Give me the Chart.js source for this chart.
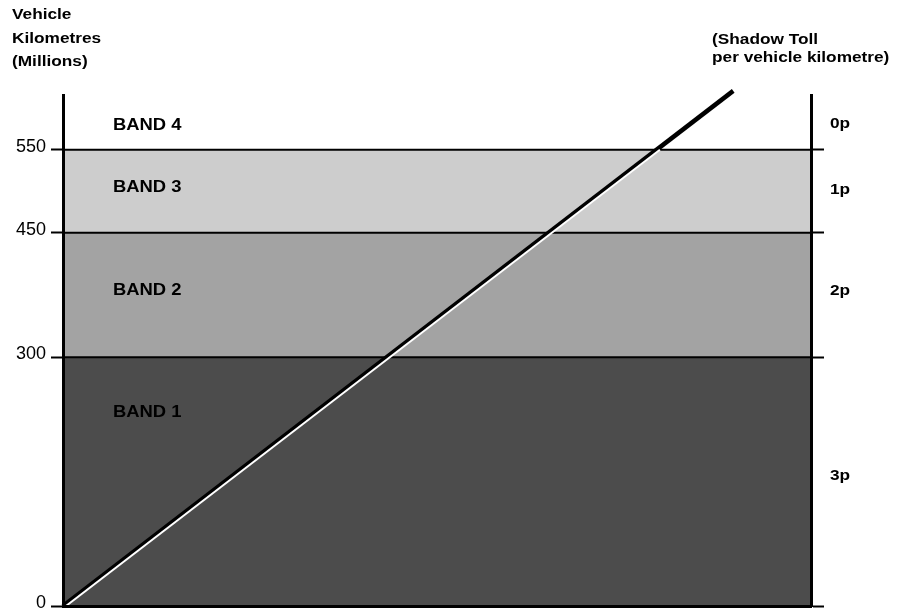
<!DOCTYPE html>
<html>
<head>
<meta charset="utf-8">
<script src="https://cdn.jsdelivr.net/npm/chart.js@4/dist/chart.umd.min.js"></script>
<style>
  html, body { margin: 0; padding: 0; background: #fff; }
  #wrap { width: 901px; height: 611px; }
</style>
</head>
<body>
<div id="wrap"><canvas id="tollBands"></canvas></div>
<script>
// vehicle kilometres (millions) where each band starts
const bandNames = ['BAND 1', 'BAND 2', 'BAND 3', 'BAND 4'];
const tollLabels = ['3p', '2p', '1p', '0p'];
const bandEdges = [0, 300, 450, 550];
const axisTop = 616;
const leftTicks = [0, 300, 450, 550];

// the traffic line, x is just a 0-100 run across the chart
const lineX = [0, 89.6];
const lineY = [0, 621];
const whiteX = [0.4, 79.8];
const whiteY = [0, 550];

const bandColors = ['#4c4c4c', '#a3a3a3', '#cdcdcd'];
const leftTitle = ['Vehicle', 'Kilometres', '(Millions)'];
const rightTitle = ['(Shadow Toll', 'per vehicle kilometre)'];

const font = '"Liberation Sans", Arial, sans-serif';
const stretch = 1.15; // the scanned original is a bit wider than tall

function wideText(ctx, text, x, y) {
  ctx.save();
  ctx.translate(x, y);
  ctx.scale(stretch, 1);
  ctx.fillText(text, 0, 0);
  ctx.restore();
}

const bandText = {
  id: 'bandText',
  afterDraw(chart, args, opts) {
    const ctx = chart.ctx;
    const y = chart.scales.y;
    ctx.save();
    ctx.fillStyle = '#000';
    ctx.textAlign = 'left';
    ctx.textBaseline = 'middle';
    ctx.font = 'bold 15px ' + font;
    leftTitle.forEach((t, i) => wideText(ctx, t, 12, 15 + i * 23.5));
    rightTitle.forEach((t, i) => wideText(ctx, t, 712, 40 + i * 18));
    bandNames.forEach((name, i) => {
      const lo = bandEdges[i];
      const hi = i < bandEdges.length - 1 ? bandEdges[i + 1] : axisTop;
      const mid = y.getPixelForValue((lo + hi) / 2);
      ctx.font = 'bold 16px ' + font;
      wideText(ctx, name, 113, mid + opts.nameShift[i]);
      ctx.font = 'bold 15px ' + font;
      wideText(ctx, tollLabels[i], 830, mid + opts.tollShift[i]);
    });
    ctx.restore();
  }
};

const datasets = [
  {
    data: whiteX.map((x, i) => ({x: x, y: whiteY[i]})),
    borderColor: '#fff', borderWidth: 2, pointRadius: 0, fill: false
  },
  {
    data: lineX.map((x, i) => ({x: x, y: lineY[i]})),
    borderColor: '#000', borderWidth: 4.5, pointRadius: 0, fill: false, clip: false
  }
];
bandColors.forEach((c, i) => {
  datasets.push({
    data: [{x: 0, y: bandEdges[i + 1]}, {x: 100, y: bandEdges[i + 1]}],
    borderColor: '#000',
    borderWidth: 2,
    backgroundColor: c,
    pointRadius: 0,
    fill: i === 0 ? 'origin' : '-1'
  });
});

// the tick labels may hang outside the plot, don't let them move it
function noOverhang(s, w) {
  s.width = w;
  s.paddingTop = 0;
  s.paddingBottom = 0;
}

new Chart(document.getElementById('tollBands'), {
  type: 'line',
  data: { datasets: datasets },
  plugins: [bandText],
  options: {
    responsive: true,
    maintainAspectRatio: false,
    animation: false,
    events: [],
    layout: { padding: { top: 95, bottom: 5, left: 15, right: 76 } },
    plugins: {
      legend: { display: false },
      tooltip: { enabled: false },
      bandText: { nameShift: [-69, -4, -4, 3], tollShift: [-6, -4, -1, 1] }
    },
    scales: {
      x: {
        type: 'linear', min: 0, max: 100,
        afterFit: s => { s.height = 0; s.paddingLeft = 0; s.paddingRight = 0; },
        ticks: { display: false },
        grid: { display: false, drawTicks: false },
        border: { display: true, color: '#000', width: 3, z: 1 }
      },
      y: {
        min: 0, max: axisTop,
        afterBuildTicks: s => { s.ticks = leftTicks.map(v => ({value: v})); },
        afterFit: s => noOverhang(s, 48),
        ticks: {
          color: '#000', padding: 5, labelOffset: -3,
          font: { family: font, size: 18 }
        },
        grid: { drawOnChartArea: false, tickLength: 12, tickColor: '#000', tickWidth: 2 },
        border: { color: '#000', width: 3, z: 1 }
      },
      y2: {
        position: 'right',
        min: 0, max: axisTop,
        afterBuildTicks: s => { s.ticks = leftTicks.map(v => ({value: v})); },
        afterFit: s => noOverhang(s, 14),
        ticks: { display: false },
        grid: { drawOnChartArea: false, tickLength: 13, tickColor: '#000', tickWidth: 2 },
        border: { color: '#000', width: 3, z: 1 }
      }
    }
  }
});
</script>
</body>
</html>
